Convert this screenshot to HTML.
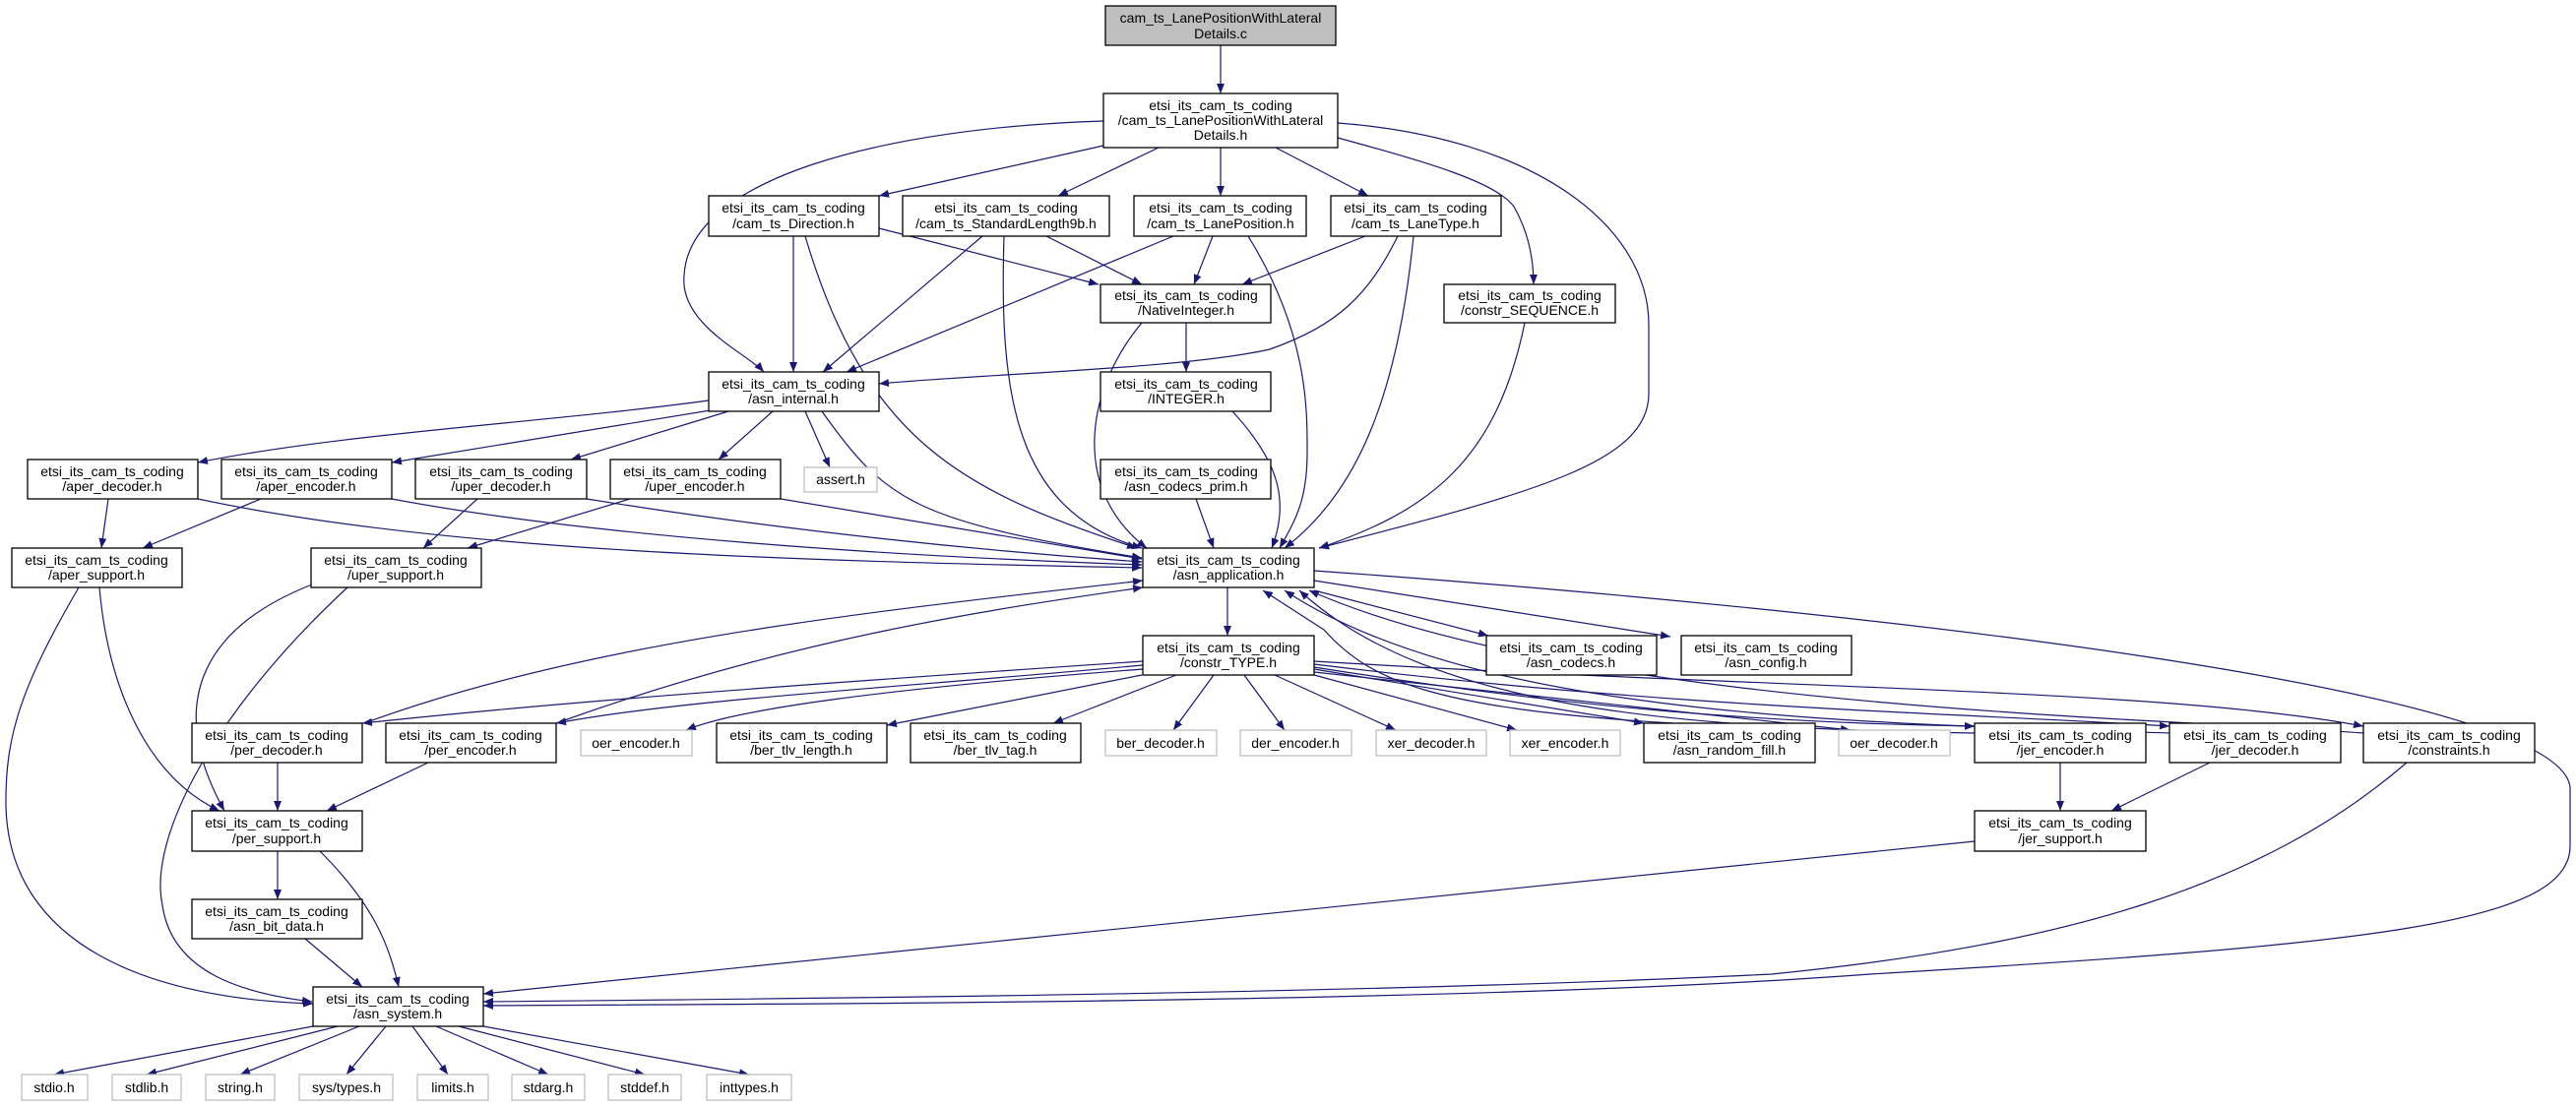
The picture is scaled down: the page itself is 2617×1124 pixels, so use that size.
<!DOCTYPE html>
<html><head><meta charset="utf-8"><style>
html,body{margin:0;padding:0;background:#fff;}
svg{display:block;}
text{font-family:"Liberation Sans",sans-serif;font-size:14px;fill:#000;text-anchor:middle;}
.n{fill:#fff;stroke:#000;stroke-width:1.3;}
.g{fill:#fff;stroke:#bfbfbf;stroke-width:1.3;}
.e{fill:none;stroke:#191970;stroke-width:1.2;marker-end:url(#a);}
</style></head><body>
<svg width="2617" height="1124" viewBox="0 0 2617 1124" xmlns="http://www.w3.org/2000/svg">
<defs><marker id="a" viewBox="0 0 10 8" refX="10" refY="4" markerWidth="10" markerHeight="8" markerUnits="userSpaceOnUse" orient="auto"><path d="M0,0 L10,4 L0,8 z" fill="#191970"/></marker></defs>
<g>
<path class="e" d="M1240,46 L1240,95"/>
<path class="e" d="M1121,123 C900,130 700,180 695,280 C690,330 760,360 776,378"/>
<path class="e" d="M1121,148 L893,199"/>
<path class="e" d="M1177,150 L1075,199"/>
<path class="e" d="M1240,150 L1240,199"/>
<path class="e" d="M1296,150 L1390,199"/>
<path class="e" d="M1359,140 C1450,165 1520,185 1538,210 C1555,240 1558,270 1558,289"/>
<path class="e" d="M1359,125 C1560,140 1675,230 1675,330 L1675,400 C1675,470 1560,500 1340,557"/>
<path class="e" d="M806,240 L806,378"/>
<path class="e" d="M818,240 C880,450 980,500 1155,557"/>
<path class="e" d="M893,232 L1116,289"/>
<path class="e" d="M998,240 L836,378"/>
<path class="e" d="M1063,240 L1160,289"/>
<path class="e" d="M1020,240 C1015,400 1030,520 1160,557"/>
<path class="e" d="M1192,240 L860,378"/>
<path class="e" d="M1232,240 L1213,289"/>
<path class="e" d="M1268,240 C1330,340 1328,420 1328,460 C1328,510 1315,530 1300,557"/>
<path class="e" d="M1387,240 L1262,289"/>
<path class="e" d="M1420,240 C1390,300 1360,330 1290,355 C1200,375 1000,380 893,390"/>
<path class="e" d="M1436,240 C1420,400 1380,500 1305,557"/>
<path class="e" d="M1549,328 C1520,470 1450,520 1340,557"/>
<path class="e" d="M1205,328 L1205,378"/>
<path class="e" d="M1160,328 C1100,400 1090,500 1165,557"/>
<path class="e" d="M1252,418 C1300,470 1310,510 1292,557"/>
<path class="e" d="M1215,507 L1233,557"/>
<path class="e" d="M720,407 C550,430 350,440 201,470"/>
<path class="e" d="M740,414 L398,470"/>
<path class="e" d="M740,418 L580,467"/>
<path class="e" d="M785,418 L730,467"/>
<path class="e" d="M818,418 L843,475"/>
<path class="e" d="M835,418 C900,510 930,530 1160,567"/>
<path class="e" d="M110,507 L103,557"/>
<path class="e" d="M201,507 C450,560 800,570 1160,577"/>
<path class="e" d="M265,507 L145,557"/>
<path class="e" d="M398,507 C600,545 900,565 1160,574"/>
<path class="e" d="M485,507 L430,557"/>
<path class="e" d="M596,507 C800,540 1000,560 1160,571"/>
<path class="e" d="M640,507 L475,557"/>
<path class="e" d="M793,507 L1160,568"/>
<path class="e" d="M101,597 C110,700 150,790 223,824"/>
<path class="e" d="M80,597 C20,700 5,750 6,820 C10,960 150,1015 318,1020"/>
<path class="e" d="M317,594 C200,640 170,720 228,824"/>
<path class="e" d="M353,597 C220,720 150,850 165,920 C175,990 250,1010 317,1018"/>
<path class="e" d="M1247,597 L1247,646"/>
<path class="e" d="M1335,600 L1512,646"/>
<path class="e" d="M1335,590 L1697,647"/>
<path class="e" d="M1335,580 C1900,620 2600,700 2611,800 L2611,860 C2611,940 2400,960 1900,990 C1500,1020 800,1020 491,1022"/>
<path class="e" d="M1161,672 C900,690 600,710 368,735"/>
<path class="e" d="M370,735 C600,650 900,620 1161,590"/>
<path class="e" d="M1161,676 C900,700 700,710 565,735"/>
<path class="e" d="M565,735 C800,650 1000,620 1161,597"/>
<path class="e" d="M1161,680 C900,700 750,720 697,742"/>
<path class="e" d="M1160,686 L901,737"/>
<path class="e" d="M1195,686 L1070,735"/>
<path class="e" d="M1233,686 L1192,742"/>
<path class="e" d="M1264,686 L1305,742"/>
<path class="e" d="M1295,686 L1418,742"/>
<path class="e" d="M1335,686 L1541,742"/>
<path class="e" d="M1335,680 L1670,735"/>
<path class="e" d="M1700,735 C1450,720 1390,690 1345,640 L1283,600"/>
<path class="e" d="M1335,683 L1880,742"/>
<path class="e" d="M1335,678 C1600,720 1800,735 2006,738"/>
<path class="e" d="M1335,675 C1700,720 2000,725 2204,738"/>
<path class="e" d="M1335,672 C1800,700 2200,700 2401,738"/>
<path class="e" d="M2006,745 C1700,740 1450,720 1320,600"/>
<path class="e" d="M2204,745 C1900,735 1500,730 1305,600"/>
<path class="e" d="M2401,745 C2200,730 1600,720 1330,600"/>
<path class="e" d="M282,775 L282,824"/>
<path class="e" d="M435,775 L332,824"/>
<path class="e" d="M282,865 L282,914"/>
<path class="e" d="M325,865 C380,920 395,960 405,1003"/>
<path class="e" d="M310,954 L368,1003"/>
<path class="e" d="M2093,775 L2093,824"/>
<path class="e" d="M2245,775 L2145,824"/>
<path class="e" d="M2006,855 L491,1010"/>
<path class="e" d="M2445,775 C2300,900 2100,960 1800,990 C1400,1010 800,1015 491,1018"/>
<path class="e" d="M318,1043 L55,1092"/>
<path class="e" d="M343,1043 L149,1092"/>
<path class="e" d="M365,1043 L244,1092"/>
<path class="e" d="M392,1043 L352,1092"/>
<path class="e" d="M419,1043 L455,1092"/>
<path class="e" d="M443,1043 L557,1092"/>
<path class="e" d="M466,1043 L655,1092"/>
<path class="e" d="M491,1043 L761,1092"/>
</g>
<g>
<rect x="1123" y="6" width="234" height="40" fill="#bfbfbf" stroke="#000" stroke-width="1.3"/>
<text x="1240" y="23">cam_ts_LanePositionWithLateral</text><text x="1240" y="39">Details.c</text>

<rect class="n" x="1121" y="95" width="238" height="55"/>
<text x="1240" y="112">etsi_its_cam_ts_coding</text><text x="1240" y="127">/cam_ts_LanePositionWithLateral</text><text x="1240" y="142">Details.h</text>

<rect class="n" x="720" y="199" width="173" height="41"/><text x="806" y="216">etsi_its_cam_ts_coding</text><text x="806" y="232">/cam_ts_Direction.h</text>
<rect class="n" x="917" y="199" width="210" height="41"/><text x="1022" y="216">etsi_its_cam_ts_coding</text><text x="1022" y="232">/cam_ts_StandardLength9b.h</text>
<rect class="n" x="1152" y="199" width="175" height="41"/><text x="1240" y="216">etsi_its_cam_ts_coding</text><text x="1240" y="232">/cam_ts_LanePosition.h</text>
<rect class="n" x="1352" y="199" width="173" height="41"/><text x="1438" y="216">etsi_its_cam_ts_coding</text><text x="1438" y="232">/cam_ts_LaneType.h</text>

<rect class="n" x="1467" y="289" width="174" height="39"/><text x="1554" y="305">etsi_its_cam_ts_coding</text><text x="1554" y="320">/constr_SEQUENCE.h</text>
<rect class="n" x="1118" y="289" width="173" height="39"/><text x="1205" y="305">etsi_its_cam_ts_coding</text><text x="1205" y="320">/NativeInteger.h</text>
<rect class="n" x="720" y="378" width="173" height="40"/><text x="806" y="395">etsi_its_cam_ts_coding</text><text x="806" y="410">/asn_internal.h</text>
<rect class="n" x="1118" y="378" width="173" height="40"/><text x="1205" y="395">etsi_its_cam_ts_coding</text><text x="1205" y="410">/INTEGER.h</text>

<rect class="n" x="28" y="467" width="173" height="40"/><text x="114" y="484">etsi_its_cam_ts_coding</text><text x="114" y="499">/aper_decoder.h</text>
<rect class="n" x="225" y="467" width="173" height="40"/><text x="311" y="484">etsi_its_cam_ts_coding</text><text x="311" y="499">/aper_encoder.h</text>
<rect class="n" x="422" y="467" width="174" height="40"/><text x="509" y="484">etsi_its_cam_ts_coding</text><text x="509" y="499">/uper_decoder.h</text>
<rect class="n" x="620" y="467" width="173" height="40"/><text x="706" y="484">etsi_its_cam_ts_coding</text><text x="706" y="499">/uper_encoder.h</text>
<rect class="g" x="817" y="475" width="74" height="25"/><text x="854" y="492">assert.h</text>
<rect class="n" x="1118" y="467" width="173" height="40"/><text x="1205" y="484">etsi_its_cam_ts_coding</text><text x="1205" y="499">/asn_codecs_prim.h</text>

<rect class="n" x="12" y="557" width="173" height="40"/><text x="98" y="574">etsi_its_cam_ts_coding</text><text x="98" y="589">/aper_support.h</text>
<rect class="n" x="316" y="557" width="173" height="40"/><text x="402" y="574">etsi_its_cam_ts_coding</text><text x="402" y="589">/uper_support.h</text>
<rect class="n" x="1161" y="557" width="174" height="40"/><text x="1248" y="574">etsi_its_cam_ts_coding</text><text x="1248" y="589">/asn_application.h</text>

<rect class="n" x="1161" y="646" width="174" height="40"/><text x="1248" y="663">etsi_its_cam_ts_coding</text><text x="1248" y="678">/constr_TYPE.h</text>
<rect class="n" x="1510" y="646" width="173" height="40"/><text x="1596" y="663">etsi_its_cam_ts_coding</text><text x="1596" y="678">/asn_codecs.h</text>
<rect class="n" x="1708" y="646" width="173" height="40"/><text x="1794" y="663">etsi_its_cam_ts_coding</text><text x="1794" y="678">/asn_config.h</text>

<rect class="n" x="195" y="735" width="173" height="40"/><text x="281" y="752">etsi_its_cam_ts_coding</text><text x="281" y="767">/per_decoder.h</text>
<rect class="n" x="392" y="735" width="173" height="40"/><text x="478" y="752">etsi_its_cam_ts_coding</text><text x="478" y="767">/per_encoder.h</text>
<rect class="g" x="590" y="742" width="113" height="26"/><text x="646" y="760">oer_encoder.h</text>
<rect class="n" x="728" y="735" width="173" height="40"/><text x="814" y="752">etsi_its_cam_ts_coding</text><text x="814" y="767">/ber_tlv_length.h</text>
<rect class="n" x="925" y="735" width="173" height="40"/><text x="1011" y="752">etsi_its_cam_ts_coding</text><text x="1011" y="767">/ber_tlv_tag.h</text>
<rect class="g" x="1123" y="742" width="113" height="26"/><text x="1179" y="760">ber_decoder.h</text>
<rect class="g" x="1260" y="742" width="113" height="26"/><text x="1316" y="760">der_encoder.h</text>
<rect class="g" x="1398" y="742" width="112" height="26"/><text x="1454" y="760">xer_decoder.h</text>
<rect class="g" x="1534" y="742" width="112" height="26"/><text x="1590" y="760">xer_encoder.h</text>
<rect class="n" x="1670" y="735" width="174" height="40"/><text x="1757" y="752">etsi_its_cam_ts_coding</text><text x="1757" y="767">/asn_random_fill.h</text>
<rect class="g" x="1868" y="742" width="113" height="26"/><text x="1924" y="760">oer_decoder.h</text>
<rect class="n" x="2006" y="735" width="174" height="40"/><text x="2093" y="752">etsi_its_cam_ts_coding</text><text x="2093" y="767">/jer_encoder.h</text>
<rect class="n" x="2204" y="735" width="174" height="40"/><text x="2291" y="752">etsi_its_cam_ts_coding</text><text x="2291" y="767">/jer_decoder.h</text>
<rect class="n" x="2401" y="735" width="174" height="40"/><text x="2488" y="752">etsi_its_cam_ts_coding</text><text x="2488" y="767">/constraints.h</text>

<rect class="n" x="195" y="824" width="173" height="41"/><text x="281" y="841">etsi_its_cam_ts_coding</text><text x="281" y="857">/per_support.h</text>
<rect class="n" x="2006" y="824" width="174" height="41"/><text x="2093" y="841">etsi_its_cam_ts_coding</text><text x="2093" y="857">/jer_support.h</text>
<rect class="n" x="195" y="914" width="173" height="40"/><text x="281" y="931">etsi_its_cam_ts_coding</text><text x="281" y="946">/asn_bit_data.h</text>
<rect class="n" x="318" y="1003" width="173" height="40"/><text x="404" y="1020">etsi_its_cam_ts_coding</text><text x="404" y="1035">/asn_system.h</text>

<rect class="g" x="22" y="1092" width="67" height="26"/><text x="55" y="1110">stdio.h</text>
<rect class="g" x="114" y="1092" width="70" height="26"/><text x="149" y="1110">stdlib.h</text>
<rect class="g" x="209" y="1092" width="70" height="26"/><text x="244" y="1110">string.h</text>
<rect class="g" x="304" y="1092" width="95" height="26"/><text x="352" y="1110">sys/types.h</text>
<rect class="g" x="424" y="1092" width="72" height="26"/><text x="460" y="1110">limits.h</text>
<rect class="g" x="520" y="1092" width="74" height="26"/><text x="557" y="1110">stdarg.h</text>
<rect class="g" x="618" y="1092" width="74" height="26"/><text x="655" y="1110">stddef.h</text>
<rect class="g" x="718" y="1092" width="86" height="26"/><text x="761" y="1110">inttypes.h</text>
</g>
</svg>
</body></html>
